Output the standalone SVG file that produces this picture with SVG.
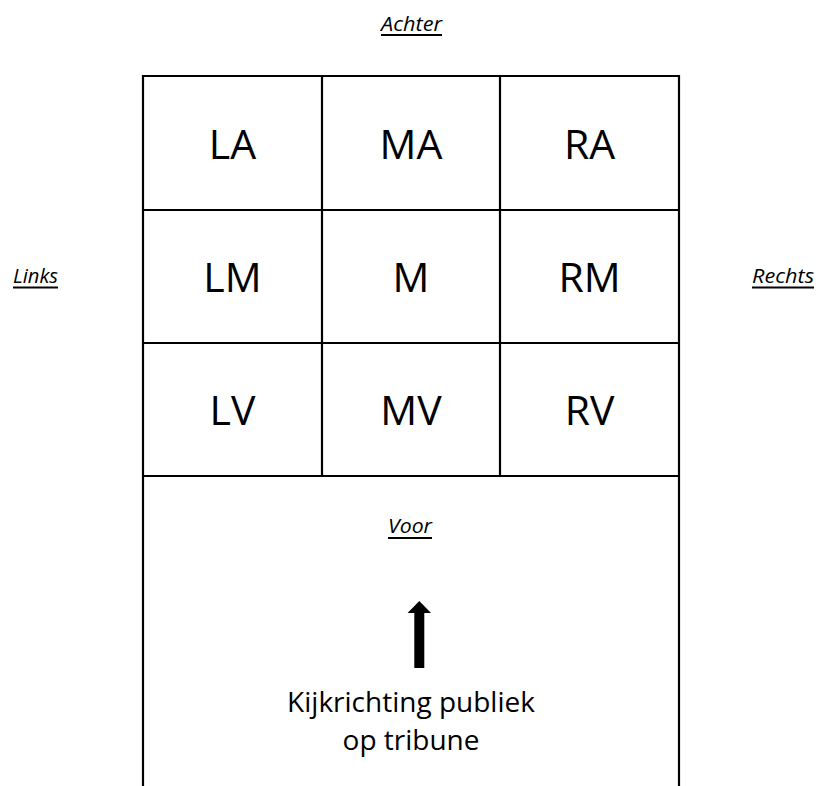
<svg xmlns="http://www.w3.org/2000/svg" width="818" height="786" viewBox="0 0 818 786">
  <style>
    .grid { fill: none; stroke: #000; stroke-width: 2.2; }
    .zone { font-family: "Open Sans", "Liberation Sans", sans-serif; font-size: 41px; fill: #000; text-anchor: middle; }
    .side { font-family: "Open Sans", "Liberation Sans", sans-serif; font-size: 20px; font-style: italic; fill: #000; text-anchor: middle; }
    .uline { fill: #000; }
    .note { font-family: "Open Sans", "Liberation Sans", sans-serif; font-size: 28px; fill: #000; text-anchor: middle; }
  </style>
  <rect width="818" height="786" fill="#fff"/>

  <!-- stage grid -->
  <g id="connectors">
    <path class="grid" d="M143,786 V76 H679 V786"/>
    <path class="grid" d="M143,210 H679 M143,343 H679 M143,476 H679"/>
    <path class="grid" d="M322,76 V476 M500,76 V476"/>
  </g>

  <g id="LA"><text class="zone" x="232.5" y="158.5">LA</text></g>
  <g id="MA"><text class="zone" x="411" y="158.5">MA</text></g>
  <g id="RA"><text class="zone" x="589.5" y="158.5">RA</text></g>
  <g id="LM"><text class="zone" x="232.5" y="292">LM</text></g>
  <g id="M"><text class="zone" x="411" y="292">M</text></g>
  <g id="RM"><text class="zone" x="589.5" y="292">RM</text></g>
  <g id="LV"><text class="zone" x="232.5" y="425">LV</text></g>
  <g id="MV"><text class="zone" x="411" y="425">MV</text></g>
  <g id="RV"><text class="zone" x="589.5" y="425">RV</text></g>

  <!-- side labels, underlined -->
  <g id="achter">
    <text class="side" x="411.5" y="30.5" textLength="61" lengthAdjust="spacingAndGlyphs">Achter</text>
    <rect class="uline" x="381" y="34" width="61" height="2"/>
  </g>
  <g id="links">
    <text class="side" x="35.5" y="282.5" textLength="45" lengthAdjust="spacingAndGlyphs">Links</text>
    <rect class="uline" x="13" y="286.5" width="45" height="2"/>
  </g>
  <g id="rechts">
    <text class="side" x="783" y="282.5" textLength="62" lengthAdjust="spacingAndGlyphs">Rechts</text>
    <rect class="uline" x="752" y="286.5" width="62" height="2"/>
  </g>
  <g id="voor">
    <text class="side" x="410" y="533" textLength="44" lengthAdjust="spacingAndGlyphs">Voor</text>
    <rect class="uline" x="388" y="537" width="44" height="2"/>
  </g>

  <!-- viewing direction -->
  <g id="kijkrichting">
    <path d="M419.3,601 L431,613 L424.3,613 L424.3,668 L414.3,668 L414.3,613 L407.6,613 Z" fill="#000"/>
    <text class="note" x="411" y="712">Kijkrichting publiek</text>
    <text class="note" x="411" y="750">op tribune</text>
  </g>
</svg>
